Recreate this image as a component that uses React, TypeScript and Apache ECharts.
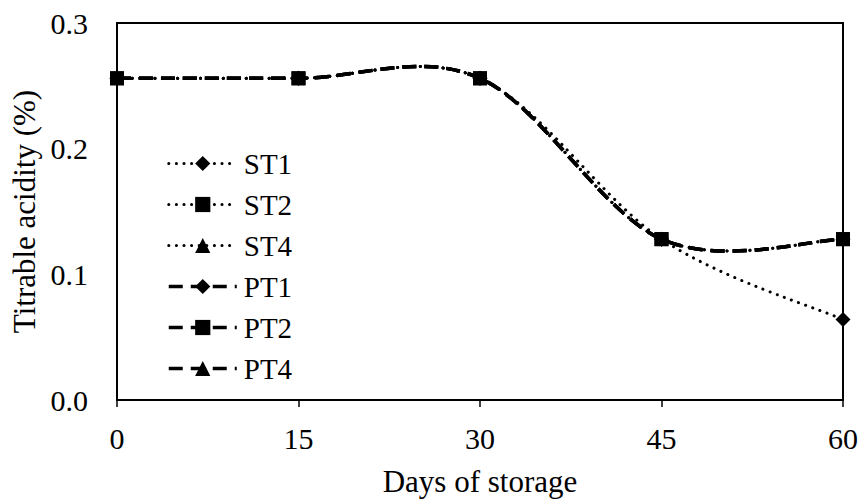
import React, { useEffect, useRef } from "react";
import * as echarts from "echarts";

const days = [0, 15, 30, 45, 60];
const seriesNames = ["ST1", "ST2", "ST4", "PT1", "PT2", "PT4"];
const ST1 = [0.256, 0.256, 0.256, 0.128, 0.064];
const ST2 = [0.256, 0.256, 0.256, 0.128, 0.128];
const ST4 = [0.256, 0.256, 0.256, 0.128, 0.128];
const PT1 = [0.256, 0.256, 0.256, 0.128, 0.128];
const PT2 = [0.256, 0.256, 0.256, 0.128, 0.128];
const PT4 = [0.256, 0.256, 0.256, 0.128, 0.128];
const values = [ST1, ST2, ST4, PT1, PT2, PT4];
const symbols = ["diamond", "rect", "triangle", "diamond", "rect", "triangle"];
const yTicks = [0, 0.1, 0.2, 0.3];

const FONT = '"Liberation Serif", "Times New Roman", serif';
const FS_TICK = 30;
const FS_NAME = 31;
const FS_LEGEND = 29;

const dottedStyle = { color: "#000", width: 3, type: [0.1, 7.5], cap: "round" };
const dashedStyle = { color: "#000", width: 3.5, type: [14, 8], cap: "butt" };

// Excel-like smoothed path (Catmull-Rom style Bezier) built from axis coordinates
function smoothPath(pts: number[][]): string {
  let d = `M${pts[0][0]},${pts[0][1]}`;
  for (let i = 0; i < pts.length - 1; i++) {
    const p0 = pts[i - 1] || pts[i];
    const p1 = pts[i];
    const p2 = pts[i + 1];
    const p3 = pts[i + 2] || pts[i + 1];
    const c1x = p1[0] + (p2[0] - p0[0]) / 6;
    const c1y = p1[1] + (p2[1] - p0[1]) / 6;
    const c2x = p2[0] - (p3[0] - p1[0]) / 6;
    const c2y = p2[1] - (p3[1] - p1[1]) / 6;
    d += ` C${c1x},${c1y} ${c2x},${c2y} ${p2[0]},${p2[1]}`;
  }
  return d;
}

export default function App() {
  const ref = useRef<HTMLDivElement>(null);
  useEffect(() => {
    if (!ref.current) return;
    const chart = echarts.init(ref.current, null, { renderer: "svg" });

    const curveSeries = seriesNames.map((name, i) => {
      const dotted = name.startsWith("ST");
      const ls = dotted ? dottedStyle : dashedStyle;
      return {
        name: name + "_curve",
        type: "custom",
        z: 2,
        silent: true,
        data: days.map((d, j) => [d, values[i][j]]),
        renderItem: (params: any, api: any) => {
          if (params.dataIndex !== 0) return null;
          const pts = days.map((d, j) => api.coord([d, values[i][j]]));
          return {
            type: "path",
            shape: { pathData: smoothPath(pts) },
            style: {
              fill: "none",
              stroke: "#000",
              lineWidth: ls.width,
              lineDash: ls.type,
              lineCap: ls.cap,
            },
          };
        },
      };
    });

    const markerSeries = seriesNames.map((name, i) => {
      const sym = symbols[i];
      const dotted = name.startsWith("ST");
      return {
        name,
        type: "line",
        z: 3,
        data: days.map((d, j) => [d, values[i][j]]),
        symbol: sym,
        symbolSize: sym === "triangle" ? 12 : sym === "diamond" ? 15 : 14,
        itemStyle: { color: "#000" },
        lineStyle: { ...(dotted ? dottedStyle : dashedStyle), opacity: 0 },
      };
    });

    chart.setOption({
      animation: false,
      backgroundColor: "#fff",
      textStyle: { fontFamily: FONT, color: "#000" },
      grid: {
        left: 117,
        right: 19,
        top: 23,
        bottom: 101,
        show: true,
        borderColor: "#000",
        borderWidth: 2,
      },
      legend: {
        orient: "vertical",
        left: 162,
        top: 144,
        itemWidth: 68,
        itemHeight: 19,
        itemGap: 12,
        data: seriesNames.map((name) => ({
          name,
          lineStyle: { ...(name.startsWith("ST") ? dottedStyle : dashedStyle), opacity: 1 },
        })),
        textStyle: { fontFamily: FONT, fontSize: FS_LEGEND, color: "#000", padding: [0, 0, 0, 2] },
      },
      xAxis: {
        type: "value",
        min: 0,
        max: 60,
        interval: 15,
        name: "Days of storage",
        nameLocation: "middle",
        nameGap: 66,
        nameTextStyle: { fontFamily: FONT, fontSize: FS_NAME, color: "#000" },
        axisLine: { show: true, lineStyle: { color: "#000", width: 2 } },
        axisTick: { show: true, inside: false, length: 7, lineStyle: { color: "#000", width: 1.5 } },
        axisLabel: { fontFamily: FONT, fontSize: FS_TICK, color: "#000", margin: 23 },
        splitLine: { show: false },
      },
      yAxis: {
        type: "value",
        min: yTicks[0],
        max: yTicks[yTicks.length - 1],
        interval: 0.1,
        name: "Titrable acidity (%)",
        nameLocation: "middle",
        nameRotate: 90,
        nameGap: 72,
        nameTextStyle: { fontFamily: FONT, fontSize: FS_NAME, color: "#000" },
        axisLine: { show: true, lineStyle: { color: "#000", width: 2 } },
        axisTick: { show: false },
        axisLabel: {
          fontFamily: FONT,
          fontSize: FS_TICK,
          color: "#000",
          margin: 29,
          formatter: (v: number) => v.toFixed(1),
        },
        splitLine: { show: false },
      },
      series: [...curveSeries, ...markerSeries],
    });
    return () => chart.dispose();
  }, []);
  return (
    <div
      ref={ref}
      style={{ position: "fixed", left: 0, top: 0, width: 862, height: 502, background: "#fff" }}
    />
  );
}
